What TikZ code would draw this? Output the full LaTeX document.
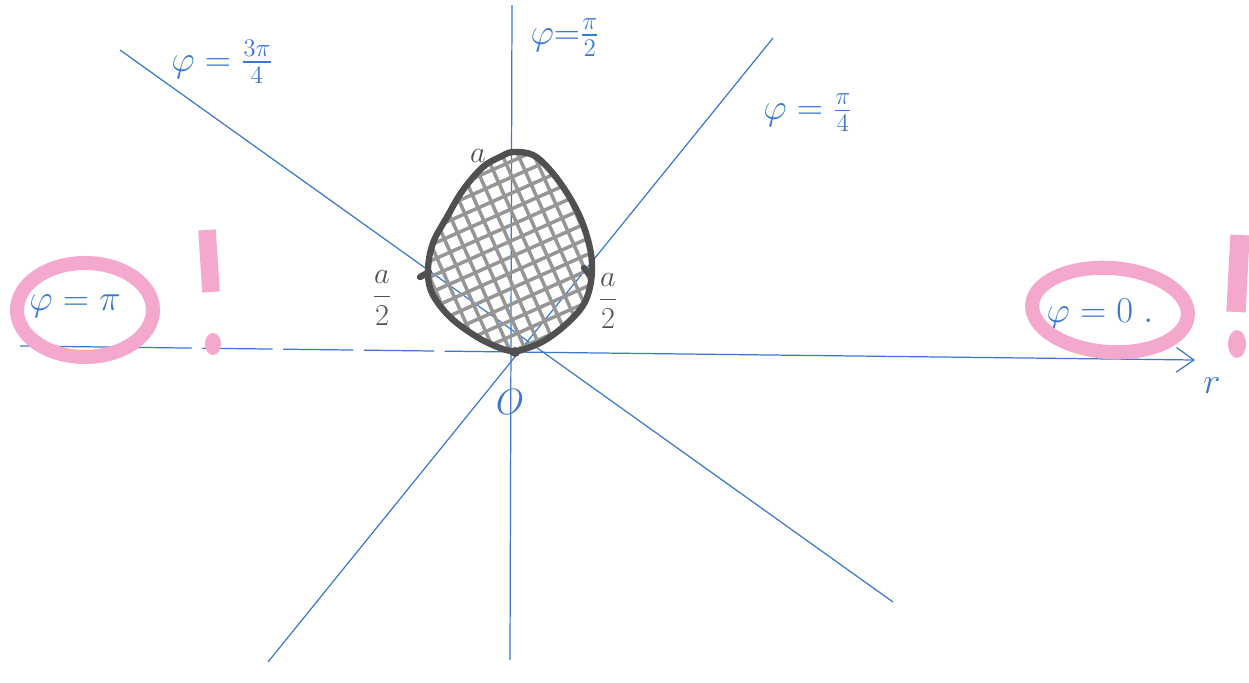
\documentclass[tikz,border=0pt]{standalone}
\usepackage{amsmath,amssymb}
\usetikzlibrary{arrows.meta,calc}

\definecolor{pen}{RGB}{60,120,210}
\definecolor{marker}{RGB}{244,168,206}
\definecolor{lead}{RGB}{80,80,80}
\definecolor{leadlight}{RGB}{150,150,150}

\tikzset{
  ray/.style={pen, line width=0.7pt},
  hatch/.style={leadlight, line width=2pt},
  rim/.style={lead, line width=3.6pt, line join=round},
  ring/.style={marker, line width=8pt},
  penlabel/.style={pen, font=\huge},
  leadlabel/.style={lead, font=\LARGE},
}

\begin{document}
\begin{tikzpicture}[x=0.02cm, y=-0.02cm]
\useasboundingbox (0,0) rectangle (1249,683);
% origin and ends of the rays
\coordinate (O) at (515,352);
\coordinate (east) at (1195,360);
\coordinate (west) at (20,346);
\coordinate (north) at (512,5);
\coordinate (south) at (510,660);
\coordinate (nw) at (120,50);
\coordinate (se) at (893,602);
\coordinate (ne) at (773,38);
\coordinate (sw) at (268,662);
% rays
\draw[ray, -{Straight Barb[length=10pt, width=14pt]}] (O) -- (east);
\draw[ray, dash pattern=on 40pt off 6pt] (O) -- (west);
\draw[ray] (north) -- (south);
\draw[ray] (nw) -- (se);
\draw[ray] (ne) -- (sw);
% shaded region
\def\blob{plot[smooth, tension=0.6] coordinates {(515,352) (540,343) (563,327) (582,307) (590,287) (592,263) (588,240) (580,217) (567,193) (550,170) (533,155) (513,152) (500,157) (483,167) (463,190) (447,217) (433,243) (428,270) (432,293) (450,317) (477,337) (500,348) (515,352)}}
\begin{scope}
  \clip \blob;
  \begin{scope}[shift={(515,255)}, rotate=24]
    \foreach \k in {-9,...,9} {
      \draw[hatch] (-140,\k*14.5) -- (140,\k*14.5);
      \draw[hatch] (\k*14.5,-140) -- (\k*14.5,140);
    }
  \end{scope}
\end{scope}
\draw[rim] \blob;
\draw[rim, line cap=round] (420,277) -- (429,272);
\draw[rim, line cap=round] (584,268) -- (591,276);
\fill[lead] (O) circle (5);
% labels
\node[leadlabel] (la) at (478,156) {$a$};
\node[leadlabel] (lleft) at (382,298) {$\dfrac{a}{2}$};
\node[leadlabel] (lright) at (608,301) {$\dfrac{a}{2}$};
\node[penlabel] (lO) at (510,402) {$O$};
\node[penlabel] (lr) at (1212,386) {$r$};
\node[penlabel] (lhalf) at (565,38) {$\varphi{=}\frac{\pi}{2}$};
\node[penlabel] (lthree) at (222,62) {$\varphi=\frac{3\pi}{4}$};
\node[penlabel] (lquarter) at (808,113) {$\varphi=\frac{\pi}{4}$};
\node[penlabel] (lpi) at (75,306) {$\varphi=\pi$};
\node[penlabel] (lzero) at (1100,314) {$\varphi=0\;.$};
% marker rings and exclamation marks
\draw[ring] (85,310) ellipse (68 and 47);
\draw[ring, rotate around={-4:(1110,310)}] (1110,310) ellipse (78 and 42);
\draw[marker, line width=10pt] (207,230) -- (211,292);
\fill[marker] (213,344) ellipse (8 and 11);
\draw[marker, line width=11pt] (1240,235) -- (1236,312);
\fill[marker] (1237,344) ellipse (9 and 14);
\end{tikzpicture}
\end{document}
